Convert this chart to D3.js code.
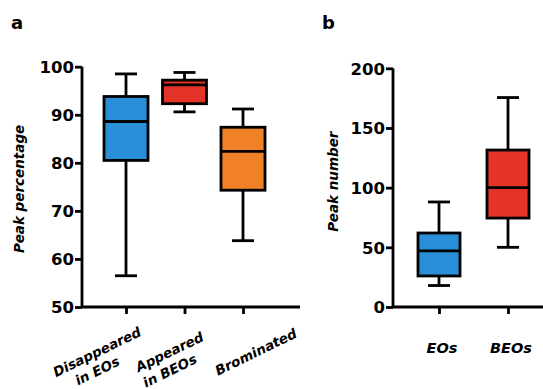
<!DOCTYPE html>
<html>
<head>
<meta charset="utf-8">
<script src="https://cdn.jsdelivr.net/npm/d3@7"></script>
<style>
  body { margin: 0; background: #fff; }
  text { font-family: "DejaVu Sans", Arial, sans-serif; font-weight: bold; fill: #000; }
</style>
</head>
<body>
<div id="chart"></div>
<script>
// panel a: peak percentage
const catsA = ['Disappeared in EOs', 'Appeared in BEOs', 'Brominated'];
const labelLinesA = [['Disappeared', 'in EOs'], ['Appeared', 'in BEOs'], ['Brominated']];
const minA = [56.5, 90.6, 63.8];
const q1A = [80.5, 92.3, 74.3];
const medA = [88.6, 96.2, 82.4];
const q3A = [93.8, 97.2, 87.4];
const maxA = [98.5, 98.8, 91.2];
const colorsA = ['#2a8fd8', '#e43328', '#f08127'];
const ticksA = [50, 60, 70, 80, 90, 100];

// panel b: peak number
const catsB = ['EOs', 'BEOs'];
const minB = [18, 50];
const q1B = [26, 74.5];
const medB = [47, 100];
const q3B = [62, 131.5];
const maxB = [88, 175.5];
const colorsB = ['#2a8fd8', '#e43328'];
const ticksB = [0, 50, 100, 150, 200];

const W = 543, H = 389;
const svg = d3.select('#chart').append('svg').attr('width', W).attr('height', H);
const SW = 2.8;

function panel(cfg) {
  const g = svg.append('g');
  const y = d3.scaleLinear().domain(cfg.domain).range([307, cfg.top]);
  const x = d3.scalePoint().domain(cfg.cats).range(cfg.xRange);

  // y axis
  g.append('g').attr('transform', `translate(${cfg.axisX},0)`)
    .call(d3.axisLeft(y).tickValues(cfg.ticks).tickSize(7).tickPadding(1).tickSizeOuter(0))
    .call(a => a.select('.domain').attr('stroke-width', SW).attr('d', `M0,${y(cfg.domain[1])}V${y(cfg.domain[0])}`))
    .call(a => a.selectAll('.tick line').attr('stroke-width', SW))
    .call(a => a.selectAll('.tick text').attr('font-size', 16.5).attr('dy', '0.36em'));

  // x axis
  g.append('g').attr('transform', `translate(0,${y(cfg.domain[0])})`)
    .call(d3.axisBottom(x).tickSize(7).tickSizeOuter(0).tickFormat(''))
    .call(a => a.select('.domain').attr('stroke-width', SW).attr('d', `M${cfg.axisX},0H${cfg.axisEnd}`))
    .call(a => a.selectAll('.tick line').attr('stroke-width', SW));

  // boxes
  const data = cfg.cats.map((c, i) => ({c, min: cfg.min[i], q1: cfg.q1[i], med: cfg.med[i], q3: cfg.q3[i], max: cfg.max[i], color: cfg.colors[i]}));
  const bw = cfg.boxW, cw = 22;
  const b = g.append('g').selectAll('g').data(data).join('g').attr('transform', d => `translate(${x(d.c)},0)`);
  b.append('line').attr('y1', d => y(d.max)).attr('y2', d => y(d.q3)).attr('stroke', '#000').attr('stroke-width', SW);
  b.append('line').attr('y1', d => y(d.q1)).attr('y2', d => y(d.min)).attr('stroke', '#000').attr('stroke-width', SW);
  b.append('line').attr('x1', -cw / 2).attr('x2', cw / 2).attr('y1', d => y(d.max)).attr('y2', d => y(d.max)).attr('stroke', '#000').attr('stroke-width', SW);
  b.append('line').attr('x1', -cw / 2).attr('x2', cw / 2).attr('y1', d => y(d.min)).attr('y2', d => y(d.min)).attr('stroke', '#000').attr('stroke-width', SW);
  b.append('rect').attr('x', -bw / 2).attr('width', bw)
    .attr('y', d => y(d.q3)).attr('height', d => y(d.q1) - y(d.q3))
    .attr('fill', d => d.color).attr('stroke', '#000').attr('stroke-width', SW);
  b.append('line').attr('x1', -bw / 2).attr('x2', bw / 2).attr('y1', d => y(d.med)).attr('y2', d => y(d.med)).attr('stroke', '#000').attr('stroke-width', SW);

  // y title
  g.append('text').attr('transform', `translate(${cfg.titleX},${(y(cfg.domain[0]) + y(cfg.domain[1])) / 2 + cfg.titleDy}) rotate(-90)`)
    .attr('text-anchor', 'middle').attr('font-size', cfg.titleSize).attr('font-style', 'italic').text(cfg.title);

  // panel letter
  g.append('text').attr('x', cfg.letterX).attr('y', 29).attr('font-size', 18).text(cfg.letter);
  return {g, x, y};
}

const pa = panel({cats: catsA, domain: [50, 100], top: 66.7, xRange: [126, 243], axisX: 82, axisEnd: 300,
  ticks: ticksA, min: minA, q1: q1A, med: medA, q3: q3A, max: maxA, colors: colorsA, boxW: 44,
  title: 'Peak percentage', titleSize: 13.5, titleX: 24, titleDy: 2, letter: 'a', letterX: 11});

const pb = panel({cats: catsB, domain: [0, 200], top: 68.3, xRange: [439, 508], axisX: 393, axisEnd: 545,
  ticks: ticksB, min: minB, q1: q1B, med: medB, q3: q3B, max: maxB, colors: colorsB, boxW: 42,
  title: 'Peak number', titleSize: 13.5, titleX: 338, titleDy: -6, letter: 'b', letterX: 322});

// rotated category labels, panel a
const labelDx = [-29, -15, 13];
catsA.forEach((c, i) => {
  const lg = pa.g.append('g').attr('transform', `translate(${pa.x(c) + labelDx[i]},352) rotate(-26)`);
  labelLinesA[i].forEach((t, j) => {
    lg.append('text').attr('x', -8 * j).attr('y', 17 * j).attr('dy', '0.35em')
      .attr('text-anchor', 'middle').attr('font-size', 13.5).attr('font-style', 'italic').text(t);
  });
});

// category labels, panel b
pb.g.append('g').selectAll('text').data(catsB).join('text')
  .attr('x', d => pb.x(d) + 3).attr('y', 353).attr('text-anchor', 'middle')
  .attr('font-size', 14.5).attr('font-style', 'italic').text(d => d);
</script>
</body>
</html>
